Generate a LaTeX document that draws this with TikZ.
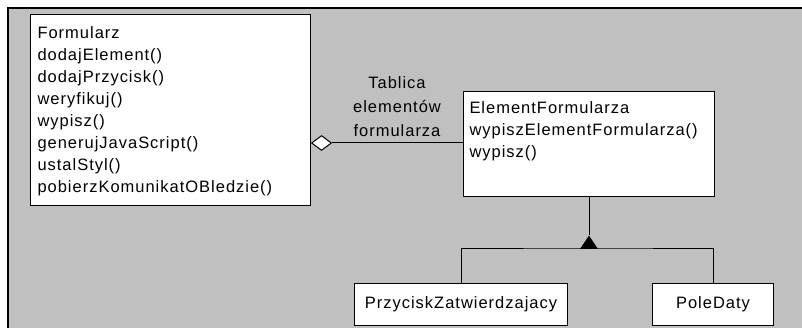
\documentclass[tikz,border=0pt]{standalone}
\usepackage{fontspec}
\setmainfont[LetterSpace=6]{Liberation Sans}
\usetikzlibrary{shapes.geometric}
\definecolor{bggray}{HTML}{C0C0C0}
\tikzset{
  classbox/.style={draw, fill=white, inner sep=0pt, anchor=north west},
  classtxt/.style={align=left, inner sep=0pt, anchor=north west, font=\fontsize{16.5}{22}\selectfont},
  labeltxt/.style={align=center, inner sep=0pt, font=\fontsize{16.5}{24}\selectfont},
  subtxt/.style={font=\fontsize{16.5}{22}\selectfont},
}
\begin{document}
\begin{tikzpicture}[x=1pt,y=-1pt,line width=1pt]
\useasboundingbox (0,0) rectangle (802,328);
\fill[bggray] (8,8) rectangle (802,328);
\draw[line width=2pt] (8,328) -- (8,8) -- (802,8);

\node[classbox, minimum width=280pt, minimum height=191pt] (form) at (30,14) {};
\node[classtxt] (formtxt) at (37,26.3) {Formularz\\dodajElement()\\dodajPrzycisk()\\weryfikuj()\\wypisz()\\generujJavaScript()\\ustalStyl()\\pobierzKomunikatOBledzie()};

\node[classbox, minimum width=251pt, minimum height=105pt] (elem) at (463,91) {};
\node[classtxt] (elemtxt) at (469,101.3) {ElementFormularza\\wypiszElementFormularza()\\wypisz()};

\node[labeltxt, anchor=north] (lab) at (397,76) {Tablica\\elementów\\formularza};

\node[diamond, draw, fill=white, inner sep=0pt, minimum width=20pt, minimum height=15pt, anchor=west] (dia) at (form.east |- 0,143) {};
\draw (dia.east) -- (dia.east -| elem.west);

\node[classbox, minimum width=213pt, minimum height=42pt, subtxt, anchor=north west] (przy) at (354,283) {PrzyciskZatwierdzajacy};
\node[classbox, minimum width=121pt, minimum height=42pt, subtxt, anchor=north west] (pole) at (652,283) {PoleDaty};

\node[isosceles triangle, isosceles triangle stretches, shape border rotate=90, draw, fill=black, inner sep=0pt, minimum width=16pt, minimum height=12pt, anchor=south] (tri) at (elem.south |- 0,249) {};
\draw (elem.south) -- (tri.apex);
\draw (przy.north) |- (tri.south) -| (pole.north);
\end{tikzpicture}
\end{document}
